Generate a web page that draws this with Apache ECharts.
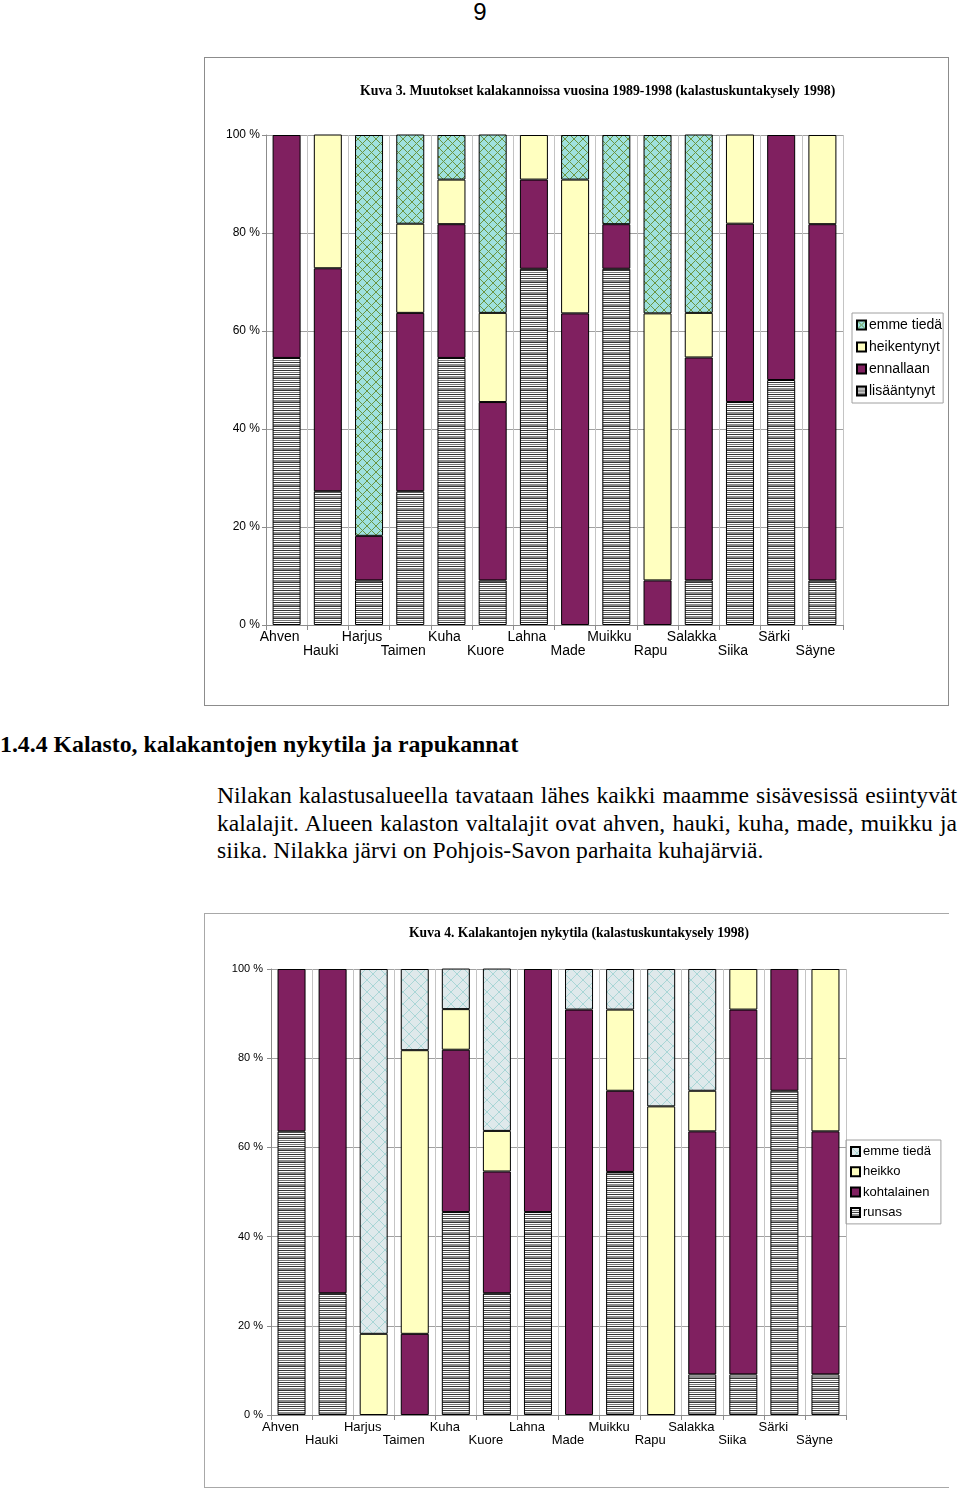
<!DOCTYPE html>
<html>
<head>
<meta charset="utf-8">
<script src="https://cdn.jsdelivr.net/npm/echarts@6/dist/echarts.min.js"></script>
<style>
  html, body { margin: 0; padding: 0; background: #fff; }
  body { width: 960px; height: 1490px; position: relative; overflow: hidden; }
  .pagenum { position: absolute; left: 0; width: 960px; top: -2px; text-align: center; font-family: "Liberation Sans", Arial, sans-serif; font-size: 24px; color: #000; }
  .frame1 { position: absolute; left: 204px; top: 57px; width: 745px; height: 649px; box-sizing: border-box; border: 1px solid #8c8c8c; }
  .frame2 { position: absolute; left: 204px; top: 913px; width: 745px; height: 575px; box-sizing: border-box; border-top: 1px solid #a8a8a8; border-left: 1px solid #a8a8a8; border-bottom: 1px solid #a8a8a8; }
  #c1 { position: absolute; left: 0; top: 0; width: 743px; height: 647px; }
  #c2 { position: absolute; left: 0; top: 0; width: 744px; height: 573px; }
  .heading { position: absolute; left: 0px; top: 731px; font-family: "Liberation Serif", "Times New Roman", serif; font-weight: bold; font-size: 23.8px; white-space: nowrap; }
  .para { position: absolute; left: 217px; top: 782px; width: 740px; font-family: "Liberation Serif", "Times New Roman", serif; font-size: 23.6px; line-height: 27.5px; color: #000; }
  .para div { white-space: nowrap; }
  .para .j { text-align: justify; text-align-last: justify; white-space: normal; }
</style>
</head>
<body>
<div class="pagenum">9</div>
<div class="frame1"><div id="c1"></div></div>
<div class="heading">1.4.4 Kalasto, kalakantojen nykytila ja rapukannat</div>
<div class="para">
  <div class="j">Nilakan kalastusalueella tavataan lähes kaikki maamme sisävesissä esiintyvät</div>
  <div class="j">kalalajit. Alueen kalaston valtalajit ovat ahven, hauki, kuha, made, muikku ja</div>
  <div>siika. Nilakka järvi on Pohjois-Savon parhaita kuhajärviä.</div>
</div>
<div class="frame2"><div id="c2"></div></div>
<script>
// ---------- DATA ----------
const categories = ['Ahven','Hauki','Harjus','Taimen','Kuha','Kuore','Lahna','Made','Muikku','Rapu','Salakka','Siika','Särki','Säyne'];
const yTicks = [0, 20, 40, 60, 80, 100];

// Kuva 3: Muutokset kalakannoissa 1989-1998 (%)
const title1 = 'Kuva 3. Muutokset kalakannoissa vuosina 1989-1998 (kalastuskuntakysely 1998)';
const names1 = ['lisääntynyt', 'ennallaan', 'heikentynyt', 'emme tiedä'];
const lisaantynyt = [54.5, 27.3, 9.1, 27.3, 54.5, 9.1, 72.7, 0, 72.7, 0, 9.1, 45.5, 50, 9.1];
const ennallaan   = [45.5, 45.5, 9.1, 36.4, 27.3, 36.4, 18.2, 63.6, 9.1, 9.1, 45.5, 36.4, 50, 72.7];
const heikentynyt = [0, 27.3, 0, 18.2, 9.1, 18.2, 9.1, 27.3, 0, 54.5, 9.1, 18.2, 0, 18.2];
const emmeTieda1  = [0, 0, 81.8, 18.2, 9.1, 36.4, 0, 9.1, 18.2, 36.4, 36.4, 0, 0, 0];

// Kuva 4: Kalakantojen nykytila (%)
const title2 = 'Kuva 4. Kalakantojen nykytila (kalastuskuntakysely 1998)';
const names2 = ['runsas', 'kohtalainen', 'heikko', 'emme tiedä'];
const runsas      = [63.6, 27.3, 0, 0, 45.5, 27.3, 45.5, 0, 54.5, 0, 9.1, 9.1, 72.7, 9.1];
const kohtalainen = [36.4, 72.7, 0, 18.2, 36.4, 27.3, 54.5, 90.9, 18.2, 0, 54.5, 81.8, 27.3, 54.5];
const heikko      = [0, 0, 18.2, 63.6, 9.1, 9.1, 0, 0, 18.2, 69.2, 9.1, 9.1, 0, 36.4];
const emmeTieda2  = [0, 0, 81.8, 18.2, 9.1, 36.4, 0, 9.1, 9.1, 30.8, 27.3, 0, 0, 0];

// ---------- PATTERNS ----------
function stripes() {
  const rows = ['#333333','#ffffff','#777777','#ffffff','#333333','#ffffff','#8c8c8c','#8c8c8c','#333333','#ffffff','#777777','#ffffff'];
  const c = document.createElement('canvas'); c.width = 4; c.height = rows.length;
  const g = c.getContext('2d');
  rows.forEach((col, i) => { g.fillStyle = col; g.fillRect(0, i, 4, 1); });
  return c;
}
function lattice(size, bg, line, lw) {
  const c = document.createElement('canvas'); c.width = size; c.height = size;
  const g = c.getContext('2d');
  g.fillStyle = bg; g.fillRect(0, 0, size, size);
  g.strokeStyle = line; g.lineWidth = lw;
  g.beginPath();
  g.moveTo(0, 0); g.lineTo(size, size);
  g.moveTo(size, 0); g.lineTo(0, size);
  g.stroke();
  return c;
}
const stripeFill = { image: stripes(), repeat: 'repeat' };
const latticeFill1 = { image: lattice(9, '#9fe1de', '#6a9440', 1), repeat: 'repeat' };
const latticeFill2 = { image: lattice(12, '#dfe9eb', '#a9d6d6', 1), repeat: 'repeat' };
const PURPLE = '#802060';
const YELLOW = '#ffffc0';

function nz(arr) { return arr.map(v => v === 0 ? null : v); }

function makeOption(cfg) {
  const fills = [stripeFill, PURPLE, YELLOW, cfg.lattice];
  const seriesData = cfg.values;
  return {
    animation: false,
    title: {
      text: cfg.title, left: cfg.titleLeft, top: cfg.titleTop,
      textStyle: { fontFamily: 'Liberation Serif', fontWeight: 'bold', fontSize: cfg.titleSize, color: '#000' }
    },
    legend: {
      orient: 'vertical', left: cfg.legendLeft, top: cfg.legendTop,
      data: [cfg.names[3], cfg.names[2], cfg.names[1], cfg.names[0]],
      icon: 'rect', itemWidth: 9, itemHeight: 9, itemGap: cfg.legendGap,
      padding: cfg.legendPad, borderColor: '#a0a0a0', borderWidth: 1,
      textStyle: { fontFamily: 'Liberation Sans', fontSize: cfg.legendFont, lineHeight: cfg.legendLH, color: '#000', padding: [0, 0, 0, -2] },
      selectedMode: false
    },
    grid: { left: cfg.grid[0], top: cfg.grid[1], width: cfg.grid[2], height: cfg.grid[3] },
    xAxis: {
      type: 'category', data: categories, boundaryGap: true,
      axisLine: { lineStyle: { color: '#8c8c8c' } },
      axisTick: { show: true, length: 5, lineStyle: { color: '#8c8c8c' } },
      splitLine: { show: true, lineStyle: { color: '#c4c4c4', width: 1 } },
      axisLabel: {
        interval: 0, color: '#000', fontFamily: 'Liberation Sans', fontSize: cfg.xFont, lineHeight: cfg.xLH,
        margin: cfg.xMargin, padding: [0, cfg.xShift, 0, 0],
        formatter: (v, i) => (i % 2 === 1 ? '\n' + v : v)
      }
    },
    yAxis: {
      type: 'value', min: yTicks[0], max: yTicks[yTicks.length - 1], interval: yTicks[1] - yTicks[0],
      axisLine: { show: true, lineStyle: { color: '#8c8c8c' } },
      axisTick: { show: true, length: 4, lineStyle: { color: '#8c8c8c' } },
      splitLine: { show: true, lineStyle: { color: '#a0a0a0', width: 1 } },
      axisLabel: { color: '#000', fontFamily: 'Liberation Sans', fontSize: cfg.yFont, margin: cfg.yMargin, formatter: '{value} %' }
    },
    series: cfg.names.map((n, k) => ({
      name: n, type: 'bar', stack: 'all', barWidth: cfg.barWidth,
      data: nz(seriesData[k]),
      itemStyle: { color: fills[k], borderColor: '#000', borderWidth: 1 },
      emphasis: { disabled: true }
    }))
  };
}

const c1 = echarts.init(document.getElementById('c1'));
c1.setOption(makeOption({
  title: title1, titleLeft: 150, titleTop: 21, titleSize: 13.8,
  names: names1, values: [lisaantynyt, ennallaan, heikentynyt, emmeTieda1], lattice: latticeFill1,
  legendLeft: 647, legendTop: 255, legendGap: 6, legendPad: [4, 1, 4, 4], legendFont: 14, legendLH: 16,
  grid: [61, 77, 577, 490], barWidth: 28,
  xFont: 14, xLH: 14, xMargin: 5, xShift: 14, yFont: 12, yMargin: 6
}));

const c2 = echarts.init(document.getElementById('c2'));
c2.setOption(makeOption({
  title: title2, titleLeft: 199, titleTop: 7, titleSize: 13.6,
  names: names2, values: [runsas, kohtalainen, heikko, emmeTieda2], lattice: latticeFill2,
  legendLeft: 641, legendTop: 226, legendGap: 5.3, legendPad: [4, 10, 4, 4], legendFont: 13, legendLH: 15,
  grid: [66, 55, 575, 446], barWidth: 28,
  xFont: 13, xLH: 13, xMargin: 6, xShift: 22, yFont: 11, yMargin: 8
}));
</script>
</body>
</html>
